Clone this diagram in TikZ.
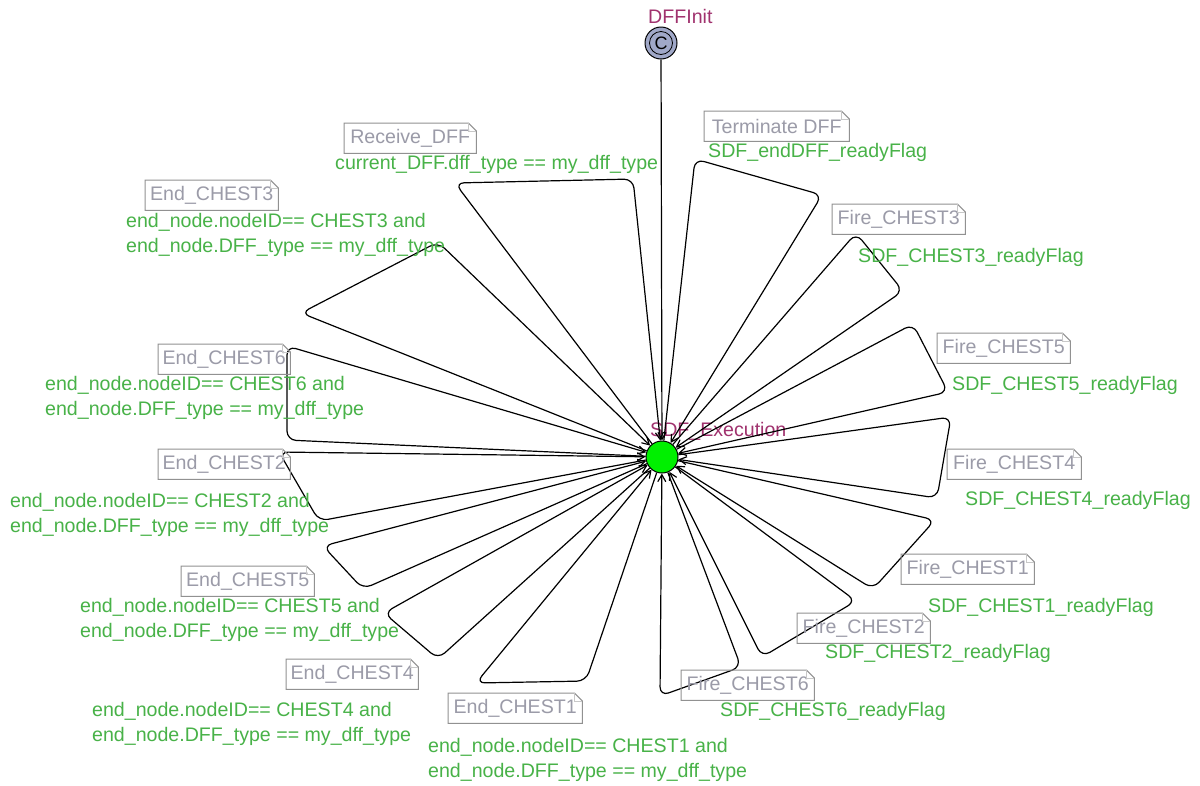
\documentclass[tikz,border=0pt]{standalone}
\usepackage{fontspec}
\setmainfont{Liberation Sans}
\usetikzlibrary{arrows.meta}
\definecolor{guardgreen}{RGB}{72,178,72}
\definecolor{notetxt}{RGB}{155,155,168}
\definecolor{noteframe}{RGB}{145,145,145}
\definecolor{locname}{RGB}{160,50,110}
\definecolor{commfill}{RGB}{160,168,200}
\definecolor{execgreen}{RGB}{0,240,0}
\tikzset{
  lbl/.style={font=\fontsize{19.6}{23}\selectfont, inner sep=0pt},
  guard/.style={lbl, text=guardgreen, anchor=base west},
  notetext/.style={lbl, text=notetxt, minimum height=30pt, anchor=north west},
  noteline/.style={draw=noteframe, line width=1pt},
  locstyle/.style={circle, draw=black, line width=1pt, minimum size=32pt, inner sep=0pt},
  loopedge/.style={draw=black, line width=1.2pt, rounded corners=9pt, -{Straight Barb[length=7pt,width=8pt]}},
}
\newcommand\notebox[5]{%
  \node[notetext, minimum width=#4pt] (#1) at (#2,#3) {#5};
  \draw[noteline] (#1.south west) -- (#1.north west) -- ([xshift=-8pt]#1.north east) -- ([yshift=-8pt]#1.north east) -- (#1.south east) -- cycle;
  \draw[draw=noteframe!50, line width=0.8pt] ([xshift=-8pt]#1.north east) -- ([xshift=-8pt,yshift=-8pt]#1.north east) -- ([yshift=-8pt]#1.north east);
}
\begin{document}
\begin{tikzpicture}[x=1pt,y=-1pt]
\useasboundingbox (0,0) rectangle (1200,785);
\fill[white] (0,0) rectangle (1200,785);

% locations
\node[locstyle, fill=execgreen] (exec) at (662,457) {};
\node[locstyle, fill=commfill, minimum size=32pt] (init) at (661,43) {};
\draw[line width=0.8pt] (init.center) circle (11.5pt);
\node[font=\fontsize{18}{20}\selectfont, inner sep=0pt] (initC) at (661,43) {C};
\node[lbl, text=locname, anchor=base west] (initname) at (648,23) {DFFInit};
\node[lbl, text=locname, anchor=base west] (execname) at (650,436) {SDF\_Execution};

% initial edge
\draw[line width=1.2pt, -{Straight Barb[length=7pt,width=8pt]}] (init) -- (exec);

% self loops
\draw[loopedge] (exec) -- (455,183) -- (633,179) -- (exec);
\draw[loopedge] (exec) -- (695,159) -- (822,195) -- (exec);
\draw[loopedge] (exec) -- (856,233) -- (903,291) -- (exec);
\draw[loopedge] (exec) -- (913,324) -- (948,392) -- (exec);
\draw[loopedge] (exec) -- (951,417) -- (937,498) -- (exec);
\draw[loopedge] (exec) -- (935,520) -- (873,589) -- (exec);
\draw[loopedge] (exec) -- (856,601) -- (762,657) -- (exec);
\draw[loopedge] (exec) -- (741,667) -- (660,696) -- (exec);
\draw[loopedge] (exec) -- (586,681) -- (476,683) -- (exec);
\draw[loopedge] (exec) -- (438,659) -- (384,613) -- (exec);
\draw[loopedge] (exec) -- (363,589) -- (323,546) -- (exec);
\draw[loopedge] (exec) -- (319,521) -- (279,452) -- (exec);
\draw[loopedge] (exec) -- (287,440) -- (287,346) -- (exec);
\draw[loopedge] (exec) -- (301,313) -- (438,242) -- (exec);

% note boxes
\notebox{nRecv}{344}{123}{132}{Receive\_DFF}
\notebox{nTerm}{704}{111}{145}{Terminate DFF}
\notebox{nF3}{832}{204}{133}{Fire\_CHEST3}
\notebox{nF5}{937}{333}{133}{Fire\_CHEST5}
\notebox{nF4}{947}{449}{134}{Fire\_CHEST4}
\notebox{nF1}{901}{554}{133}{Fire\_CHEST1}
\notebox{nF2}{797}{613}{133}{Fire\_CHEST2}
\notebox{nF6}{681}{670}{133}{Fire\_CHEST6}
\notebox{nE1}{448}{693}{134}{End\_CHEST1}
\notebox{nE4}{286}{659}{132}{End\_CHEST4}
\notebox{nE5}{181}{566}{133}{End\_CHEST5}
\notebox{nE2}{158}{449}{132}{End\_CHEST2}
\notebox{nE6}{158}{344}{132}{End\_CHEST6}
\notebox{nE3}{145}{180}{133}{End\_CHEST3}

% guards
\node[guard] (gRecv) at (335,169) {current\_DFF.dff\_type == my\_dff\_type};
\node[guard] (gTerm) at (708,157) {SDF\_endDFF\_readyFlag};
\node[guard] (gF3) at (858,262) {SDF\_CHEST3\_readyFlag};
\node[guard] (gF5) at (952,390) {SDF\_CHEST5\_readyFlag};
\node[guard] (gF4) at (965,505) {SDF\_CHEST4\_readyFlag};
\node[guard] (gF1) at (928,612) {SDF\_CHEST1\_readyFlag};
\node[guard] (gF2) at (825,658) {SDF\_CHEST2\_readyFlag};
\node[guard] (gF6) at (720,716) {SDF\_CHEST6\_readyFlag};

\node[guard] (gE3a) at (126,227) {end\_node.nodeID== CHEST3 and};
\node[guard] (gE3b) at (126,252) {end\_node.DFF\_type == my\_dff\_type};
\node[guard] (gE6a) at (45,390) {end\_node.nodeID== CHEST6 and};
\node[guard] (gE6b) at (45,415) {end\_node.DFF\_type == my\_dff\_type};
\node[guard] (gE2a) at (10,507) {end\_node.nodeID== CHEST2 and};
\node[guard] (gE2b) at (10,532) {end\_node.DFF\_type == my\_dff\_type};
\node[guard] (gE5a) at (80,612) {end\_node.nodeID== CHEST5 and};
\node[guard] (gE5b) at (80,637) {end\_node.DFF\_type == my\_dff\_type};
\node[guard] (gE4a) at (92,716) {end\_node.nodeID== CHEST4 and};
\node[guard] (gE4b) at (92,741) {end\_node.DFF\_type == my\_dff\_type};
\node[guard] (gE1a) at (428,752) {end\_node.nodeID== CHEST1 and};
\node[guard] (gE1b) at (428,777) {end\_node.DFF\_type == my\_dff\_type};
\end{tikzpicture}
\end{document}
